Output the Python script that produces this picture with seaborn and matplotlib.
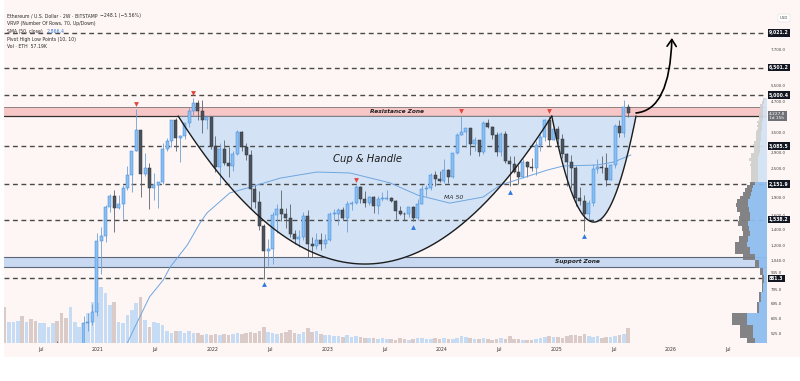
import numpy as np
import pandas as pd
import matplotlib
matplotlib.use("Agg")
import matplotlib.pyplot as plt
import matplotlib.transforms as mtransforms
from matplotlib.patches import Rectangle, FancyArrowPatch
from matplotlib.path import Path
from matplotlib.ticker import NullLocator
import seaborn as sns

sns.set_theme(style="white")
plt.rcParams["font.family"] = ["DejaVu Sans"]

# ---------------- data (2-week ETH/USD candles) ----------------
bar_start = "2020-03-09"
bar_step_days = 14

opens = [200, 123, 143, 171, 211, 199, 245, 237,
         225, 240, 320, 395, 405, 385, 365, 355, 380, 385, 460, 575, 585, 640,
         1260, 1320, 1740, 1930, 1720, 1780, 2080, 2350, 2950, 3580, 2380, 2500, 2080, 2140, 2190, 3010, 3230, 3940, 3330, 3400, 3840, 4300, 4640, 4300, 3960, 4050,
         3080, 2540, 3010, 2630, 2550, 2860, 3520, 3060, 2830, 2060, 1810, 1450, 1140, 1170, 1600, 1700, 1620, 1560, 1340, 1280, 1300, 1590, 1220, 1200, 1265, 1220,
         1265, 1630, 1630, 1690, 1565, 1790, 1800, 2090, 1870, 1800, 1900, 1750, 1870, 1870, 1890, 1830, 1670, 1630, 1620, 1730, 1560, 1790, 2050, 2070, 2350, 2270,
         2220, 2460, 2300, 2880, 3420, 3520, 3650, 3150, 3260, 2930, 3830, 3700, 3420, 2930, 3450, 2690, 2610, 2420, 2300, 2650, 2530, 2510, 3120, 3360, 3940, 3280,
         3630, 3300, 2870, 2660, 2520, 1890, 1830, 1620, 1800, 2490, 2530, 2510, 2240, 2580, 3750, 3490, 4476]

highs = [203, 150, 195, 228, 216, 247, 253, 246,
         250, 330, 415, 445, 488, 395, 375, 390, 420, 480, 620, 635, 690, 1350,
         1440, 1760, 1960, 2040, 1950, 2140, 2550, 2950, 4380, 3590, 2900, 2620, 2400, 2200, 3180, 3340, 3960, 4030, 3440, 3850, 4460, 4868, 4770, 4780, 4100, 4100,
         3410, 3180, 3280, 3050, 2950, 3580, 3550, 3190, 2970, 2160, 2020, 1470, 1280, 1660, 1790, 2030, 1720, 1790, 1400, 1400, 1660, 1680, 1300, 1350, 1350, 1340,
         1660, 1700, 1720, 1740, 1840, 1830, 2140, 2120, 2010, 1930, 1930, 1930, 2000, 2030, 1900, 1860, 1750, 1660, 1740, 1750, 1870, 2130, 2140, 2400, 2430, 2450,
         2720, 2480, 2880, 3480, 4090, 3680, 3650, 3360, 3270, 3930, 3980, 3720, 3520, 3520, 3560, 2800, 2820, 2570, 2730, 2670, 2770, 3250, 3460, 4000, 4110, 3750,
         3740, 3460, 2900, 2850, 2550, 2100, 1950, 1850, 2600, 2740, 2800, 2880, 2600, 3800, 3940, 4790, 4600]

lows = [90, 122, 138, 168, 176, 197, 225, 216,
        222, 235, 305, 375, 370, 310, 310, 335, 365, 370, 445, 535, 565, 620,
        920, 1240, 1650, 1370, 1700, 1550, 2030, 2000, 2950, 1900, 2330, 1700, 1850, 1720, 2150, 2950, 3060, 2950, 2650, 3300, 3700, 4150, 3950, 3500, 3640, 3000,
        2420, 2160, 2580, 2300, 2450, 2850, 2950, 2700, 1700, 1720, 1400, 880, 990, 1010, 1360, 1520, 1420, 1300, 1220, 1190, 1270, 1080, 1075, 1160, 1150, 1180,
        1260, 1540, 1460, 1540, 1370, 1680, 1780, 1800, 1740, 1760, 1640, 1620, 1840, 1850, 1820, 1550, 1600, 1530, 1570, 1520, 1540, 1790, 1930, 2030, 2120, 2200,
        2170, 2170, 2290, 2870, 3420, 3060, 2850, 2960, 2820, 2860, 3680, 3300, 2810, 2820, 2630, 2110, 2390, 2150, 2280, 2310, 2430, 2350, 2950, 3250, 3100, 3260,
        3150, 2760, 2120, 2080, 1750, 1760, 1385, 1540, 1750, 2400, 2400, 2110, 2230, 2500, 3350, 3360, 4060]

closes = [123, 143, 171, 211, 199, 245, 237, 225,
          240, 320, 395, 405, 385, 365, 355, 380, 385, 460, 575, 585, 640, 1260,
          1320, 1740, 1930, 1720, 1780, 2080, 2350, 2950, 3580, 2380, 2500, 2080, 2140, 2190, 3010, 3230, 3940, 3330, 3400, 3840, 4300, 4640, 4300, 3960, 4050, 3080,
          2540, 3010, 2630, 2550, 2860, 3520, 3060, 2830, 2060, 1810, 1450, 1140, 1170, 1600, 1700, 1620, 1560, 1340, 1280, 1300, 1590, 1220, 1200, 1265, 1220, 1265,
          1630, 1630, 1690, 1565, 1790, 1800, 2090, 1870, 1800, 1900, 1750, 1870, 1870, 1890, 1830, 1670, 1630, 1620, 1730, 1560, 1790, 2050, 2070, 2350, 2270, 2220,
          2460, 2300, 2880, 3420, 3520, 3650, 3150, 3260, 2930, 3830, 3700, 3420, 2930, 3450, 2690, 2610, 2420, 2300, 2650, 2530, 2510, 3120, 3360, 3940, 3280, 3630,
          3300, 2870, 2660, 2520, 1890, 1830, 1620, 1800, 2490, 2530, 2510, 2240, 2580, 3750, 3490, 4476, 4227.8]

volumes_k = [137, 80, 80, 84, 103, 80, 91, 84, 76, 76,
             61, 76, 84, 114, 95, 137, 80, 61, 57, 114,
             156, 152, 213, 190, 144, 156, 80, 76, 106, 125,
             152, 175, 87, 61, 80, 76, 68, 46, 38, 46,
             46, 38, 46, 38, 38, 30, 34, 30, 34, 30,
             34, 30, 34, 38, 34, 38, 42, 38, 46, 61,
             42, 38, 34, 38, 42, 49, 38, 34, 42, 57,
             42, 46, 34, 30, 30, 27, 27, 23, 30, 23,
             27, 23, 19, 19, 19, 15, 19, 15, 15, 11,
             19, 15, 11, 15, 19, 19, 15, 15, 19, 15,
             19, 15, 15, 19, 27, 23, 19, 15, 15, 19,
             15, 11, 15, 19, 15, 27, 15, 15, 11, 11,
             11, 15, 19, 23, 27, 23, 23, 19, 27, 30,
             30, 27, 34, 27, 23, 27, 19, 23, 23, 27,
             30, 34, 57.19]

# 50-period SMA of close
ma50_years = [2021.18, 2021.31, 2021.45, 2021.57, 2021.63, 2021.78, 2021.89, 2021.95, 2022.15, 2022.33,
              2022.59, 2022.91, 2023.20, 2023.55, 2023.79, 2024.07, 2024.36, 2024.51, 2024.92, 2025.06,
              2025.36, 2025.50, 2025.65]
ma50_values = [400, 541, 740, 869, 982, 1210, 1489, 1637, 1981, 2094,
               2280, 2415, 2393, 2178, 1941, 1799, 1905, 2133, 2460, 2557,
               2582, 2655, 2838]

# visible-range volume profile, 70 rows, up / down volume per row
vp_up = [250, 280, 300, 260, 220, 120, 140, 200, 80, 60,
         40, 30, 40, 80, 120, 170, 200, 190, 170, 180,
         190, 170, 170, 180, 190, 190, 170, 160, 150, 140,
         120, 95, 90, 92, 88, 90, 90, 86, 92, 88,
         84, 72, 70, 68, 74, 70, 62, 58, 60, 56,
         60, 50, 48, 52, 46, 50, 42, 40, 44, 38,
         40, 40, 36, 38, 34, 36, 30, 28, 26, 22]
vp_down = [180, 200, 220, 200, 160, 80, 130, 150, 20, 20,
           10, 20, 30, 40, 120, 150, 120, 90, 70, 70,
           100, 110, 100, 120, 120, 110, 100, 80, 70, 60,
           50, 70, 72, 68, 74, 70, 80, 78, 84, 76,
           80, 60, 62, 58, 64, 60, 50, 52, 48, 54,
           50, 50, 46, 52, 48, 50, 40, 42, 38, 44,
           40, 30, 32, 28, 34, 30, 20, 22, 18, 14]
value_area = (430, 2210)

key_levels = [9021.2, 6501.2, 5000.4, 3085.5, 2151.9, 1538.2, 881.3]
axis_prices = [7700, 5500, 4700, 3500, 2900, 2500, 1900, 1600, 1400, 1200, 1040, 935, 795, 695, 605, 525]
last_price = 4227.8
resistance_zone = (4105, 4470)
support_zone = (982, 1080)
pivot_high_dates = ["2021-05-03", "2021-11-01", "2023-04-03", "2024-03-04", "2024-12-09"]
pivot_low_dates = ["2022-06-13", "2023-10-02", "2024-08-05", "2025-03-31"]
time_tick_years = [2020.5, 2021, 2021.5, 2022, 2022.5, 2023, 2023.5, 2024, 2024.5, 2025, 2025.5, 2026, 2026.5]
time_tick_labels = ["Jul", "2021", "Jul", "2022", "Jul", "2023", "Jul", "2024", "Jul", "2025", "Jul", "2026", "Jul"]

# pattern drawing anchors (date as decimal year, price)
cup_left, cup_right, cup_low = 2021.70, 2024.96, 1010
handle_left, handle_right, handle_low = 2024.96, 2025.695, 1503
arrow_pts = [(2025.695, 4227), (2025.99, 4345), (2026.008, 8600)]

# ---------------- styling ----------------
BG = "#fdf6f4"
UP_FILL, UP_EDGE, UP_WICK = "#8abff2", "#3f89de", "#6d9fd6"
DN_FILL, DN_EDGE, DN_WICK = "#4d535e", "#2e333b", "#5b616b"
VOL_UP, VOL_DN = "#c6dcf4", "#dacbc8"
RES_FILL, SUP_FILL, CUP_FILL = "#f7c6c6", "#c9d9f2", "#d3e3f5"
LEVEL_C = "#4a4a4a"

W, H = 800, 381
fig = plt.figure(figsize=(W / 100, H / 100), dpi=100)
fig.patch.set_facecolor("white")
fig.add_artist(Rectangle((4 / W, 1 - 357 / H), 1 - 4 / W, 357 / H, transform=fig.transFigure,
                         facecolor=BG, edgecolor="none", zorder=-5))

rect = [4 / W, 1 - 343 / H, 763 / W, 343 / H]
XLIM = (2020.180, 2026.838)
YLIM = (478.0, 12325.0)


def to_year(d):
    d = pd.Timestamp(d)
    s = pd.Timestamp(year=d.year, month=1, day=1)
    e = pd.Timestamp(year=d.year + 1, month=1, day=1)
    return d.year + (d - s) / (e - s)


dates = pd.date_range(bar_start, periods=len(opens), freq=f"{bar_step_days}D")
xs = np.array([to_year(d) for d in dates])
o = np.array(opens, float); h = np.array(highs, float)
l = np.array(lows, float); c = np.array(closes, float)
up = c >= o
df = pd.DataFrame({"x": xs, "open": o, "high": h, "low": l, "close": c,
                   "volume": volumes_k, "dir": np.where(up, "up", "down")})

# ---- volume pane (behind) ----
ax_v = fig.add_axes(rect)
ax_v.set_facecolor("none")
ax_v.set_zorder(1)
ax_v.bar(df["x"], df["volume"], width=11.5 / 365.25,
         color=np.where(up, VOL_UP, VOL_DN), linewidth=0)
ax_v.set_xlim(*XLIM)
ax_v.set_ylim(0, 1300)
ax_v.axis("off")

# ---- price pane ----
ax = fig.add_axes(rect)
ax.set_facecolor("none")
ax.set_zorder(2)
ax.set_yscale("log")
ax.set_xlim(*XLIM)
ax.set_ylim(*YLIM)
for s in ax.spines.values():
    s.set_visible(False)

# zones
ax.axhspan(*resistance_zone, color=RES_FILL, lw=0, zorder=1)
ax.axhline(resistance_zone[1], color="#8c8282", lw=0.7, zorder=1.5)
ax.axhline(resistance_zone[0], color="#2f2f2f", lw=0.9, zorder=1.5)
ax.axhspan(*support_zone, color=SUP_FILL, lw=0, zorder=1)
ax.axhline(support_zone[1], color="#5b6579", lw=0.8, zorder=1.5)
ax.axhline(support_zone[0], color="#5b6579", lw=0.8, zorder=1.5)


def u_curve(x0, x1, low, rim, n=300):
    xx = np.linspace(x0, x1, n)
    t = (xx - (x0 + x1) / 2) / ((x1 - x0) / 2)
    lp = np.log10(rim) - (np.log10(rim) - np.log10(low)) * (1 - t ** 2)
    return xx, 10 ** lp


rim = resistance_zone[0]
for (x0, x1, lo) in [(cup_left, cup_right, cup_low), (handle_left, handle_right, handle_low)]:
    cx, cy = u_curve(x0, x1, lo, rim)
    ax.fill_between(cx, cy, rim, color=CUP_FILL, lw=0, zorder=2)
    ax.plot(cx, cy, color="#1c1c1c", lw=1.0, zorder=6, solid_capstyle="round")

# key dashed levels
for lv in key_levels:
    ax.axhline(lv, color=LEVEL_C, lw=1.0, ls=(0, (3.5, 2.6)), zorder=3)

# candles
bw = 3.0 / 114.6
for mask, fill, edge, wick in [(up, UP_FILL, UP_EDGE, UP_WICK), (~up, DN_FILL, DN_EDGE, DN_WICK)]:
    sub = df[mask]
    ax.vlines(sub["x"], sub["low"], sub["high"], color=wick, lw=0.6, zorder=4)
    bottom = np.minimum(sub["open"], sub["close"])
    height = np.maximum(np.abs(sub["close"] - sub["open"]), bottom * 0.006)
    ax.bar(sub["x"], height, bottom=bottom, width=bw, color=fill, edgecolor=edge,
           linewidth=0.35, zorder=5)

# moving average
sns.lineplot(x=ma50_years, y=ma50_values, ax=ax, color="#6fa5df", linewidth=0.7,
             zorder=4.5, legend=False)

# pivot markers
ph_idx = [dates.get_loc(pd.Timestamp(d)) for d in pivot_high_dates]
pl_idx = [dates.get_loc(pd.Timestamp(d)) for d in pivot_low_dates]
sns.scatterplot(x=xs[ph_idx], y=h[ph_idx] * 1.05, marker="v", s=12, color="#e2453c",
                linewidth=0, ax=ax, zorder=7, legend=False)
sns.scatterplot(x=xs[pl_idx], y=l[pl_idx] / 1.055, marker="^", s=12, color="#2f78dd",
                linewidth=0, ax=ax, zorder=7, legend=False)

# projection arrow
arrow_path = Path(arrow_pts, [Path.MOVETO, Path.CURVE3, Path.CURVE3])
ax.add_patch(FancyArrowPatch(path=arrow_path, arrowstyle="->,head_length=0.45,head_width=0.3",
                             mutation_scale=11, color="black", lw=1.2, zorder=8,
                             transform=ax.transData))

# annotations
zc = lambda z: np.sqrt(z[0] * z[1])
ax.text(2023.61, zc(resistance_zone), "Resistance Zone", fontsize=4.2, style="italic",
        fontweight="bold", color="#222", ha="center", va="center", zorder=9)
ax.text(2025.18, zc(support_zone), "Support Zone", fontsize=4.2, style="italic",
        fontweight="bold", color="#222", ha="center", va="center", zorder=9)
ax.text(2023.35, 2731, "Cup & Handle", fontsize=7.2, style="italic", color="#1d1d1d",
        ha="center", va="center", zorder=9)
ax.text(2024.10, 1905, "MA 50", fontsize=4.4, style="italic", color="#2a2a2a",
        ha="center", va="center", zorder=9)

# axes ticks
ax.set_xticks(time_tick_years)
ax.set_xticklabels(time_tick_labels)
ax.tick_params(axis="x", length=0, pad=2.6, labelsize=3.3, labelcolor="#333")
ax.yaxis.tick_right()
ax.set_yticks(axis_prices)
ax.set_yticklabels([f"{p:,.1f}" for p in axis_prices])
ax.yaxis.set_minor_locator(NullLocator())
ax.tick_params(axis="y", length=0, pad=2.4, labelsize=2.9, labelcolor="#444")
ax.grid(False)

blend = mtransforms.blended_transform_factory(ax.transAxes, ax.transData)
for lv in key_levels:
    ax.text(1.0 + 2.0 / 763, lv, f"{lv:,.1f}", transform=blend, ha="left", va="center",
            fontsize=3.3, color="white", fontweight="bold", clip_on=False, zorder=10,
            bbox=dict(boxstyle="square,pad=0.28", fc="#131722", ec="none"))
ax.annotate(f"{last_price:,.1f}\n1d 15h", xy=(1.0, last_price), xycoords=blend,
            xytext=(1.6, -2.3), textcoords="offset points", ha="left", va="center",
            fontsize=3.1, color="white", linespacing=1.05, annotation_clip=False, zorder=10,
            bbox=dict(boxstyle="square,pad=0.3", fc="#707079", ec="none"))

# ---- visible range volume profile (front, right side) ----
ax_p = fig.add_axes(rect)
ax_p.set_facecolor("none")
ax_p.set_zorder(3)
ax_p.set_yscale("log")
ax_p.set_ylim(*YLIM)
edges = np.linspace(min(lows), max(highs), len(vp_up) + 1)
in_va = (edges[:-1] >= value_area[0]) & (edges[1:] <= value_area[1])
upc = np.where(in_va, "#8ebdf0", "#d2e3f6")
dnc = np.where(in_va, "#7d7d80", "#d0d0d0")
ax_p.barh(edges[:-1], vp_up, height=np.diff(edges), left=0, align="edge", color=upc,
          linewidth=0, alpha=0.95)
ax_p.barh(edges[:-1], vp_down, height=np.diff(edges), left=vp_up, align="edge", color=dnc,
          linewidth=0, alpha=0.95)
ax_p.set_xlim(7630, 0)
ax_p.axis("off")

# ---- header legend ----
hdr = dict(fontsize=3.3, color="#2a2a2a", ha="left", va="center")
fig.text(7 / W, 1 - 16 / H, "Ethereum / U.S. Dollar · 2W · BITSTAMP", **hdr)
fig.text(100 / W, 1 - 16 / H, "\u2212248.1 (\u22125.56%)", fontsize=3.3, color="#2a2a2a",
         ha="left", va="center")
fig.text(7 / W, 1 - 24 / H, "VRVP (Number Of Rows, 70, Up/Down)", **hdr)
fig.text(7 / W, 1 - 31.5 / H, "SMA (50, close)", **hdr)
fig.text(47 / W, 1 - 31.5 / H, "2,866.4", fontsize=3.3, color="#2f78dd", ha="left", va="center")
fig.text(7 / W, 1 - 39.5 / H, "Pivot High Low Points (10, 10)", **hdr)
fig.text(7 / W, 1 - 47 / H, "Vol · ETH  57.19K", **hdr)
fig.text(784 / W, 1 - 18 / H, "USD", fontsize=2.8, color="#444", ha="center", va="center",
         bbox=dict(boxstyle="round,pad=0.5", fc="white", ec="#e3dede", lw=0.4))

fig.savefig("out.png", dpi=100, facecolor=fig.get_facecolor())
